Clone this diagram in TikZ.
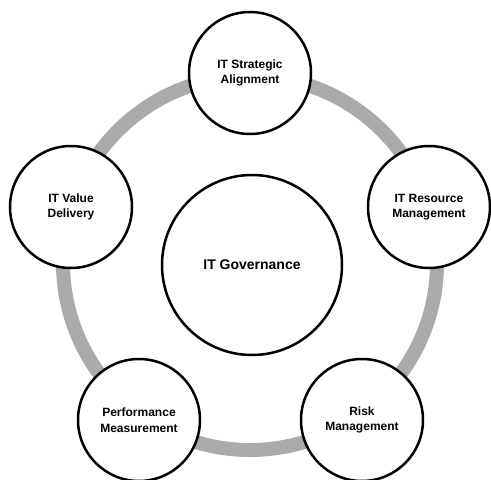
\documentclass[tikz,border=0pt]{standalone}
\usepackage{fontspec}
\setmainfont{Liberation Sans}
\definecolor{ringgray}{RGB}{170,170,170}
\tikzset{
  topic/.style={circle, draw=black, line width=2.5pt, fill=white, minimum size=122pt, inner sep=0pt, align=center, font=\bfseries\fontsize{12}{15.5}\selectfont},
  core/.style={circle, draw=black, line width=2.5pt, fill=white, minimum size=180pt, inner sep=0pt, align=center, font=\bfseries\fontsize{14}{17}\selectfont},
  ring/.style={draw=ringgray, line width=14pt}
}
\begin{document}
\begin{tikzpicture}[x=1pt,y=-1pt]
\useasboundingbox (0,0) rectangle (491,480);
\coordinate (rc) at (250,263);
\draw[ring] (rc) circle[radius=187];
\node[core] (gov) at (252,265) {IT Governance};
\node[topic] (align) at (250,73) {IT Strategic\\Alignment};
\node[topic] (res) at (429,207) {IT Resource\\Management};
\node[topic] (risk) at (362,420) {Risk\\Management};
\node[topic] (perf) at (139,420) {Performance\\Measurement};
\node[topic] (val) at (71,207) {IT Value\\Delivery};
\end{tikzpicture}
\end{document}
